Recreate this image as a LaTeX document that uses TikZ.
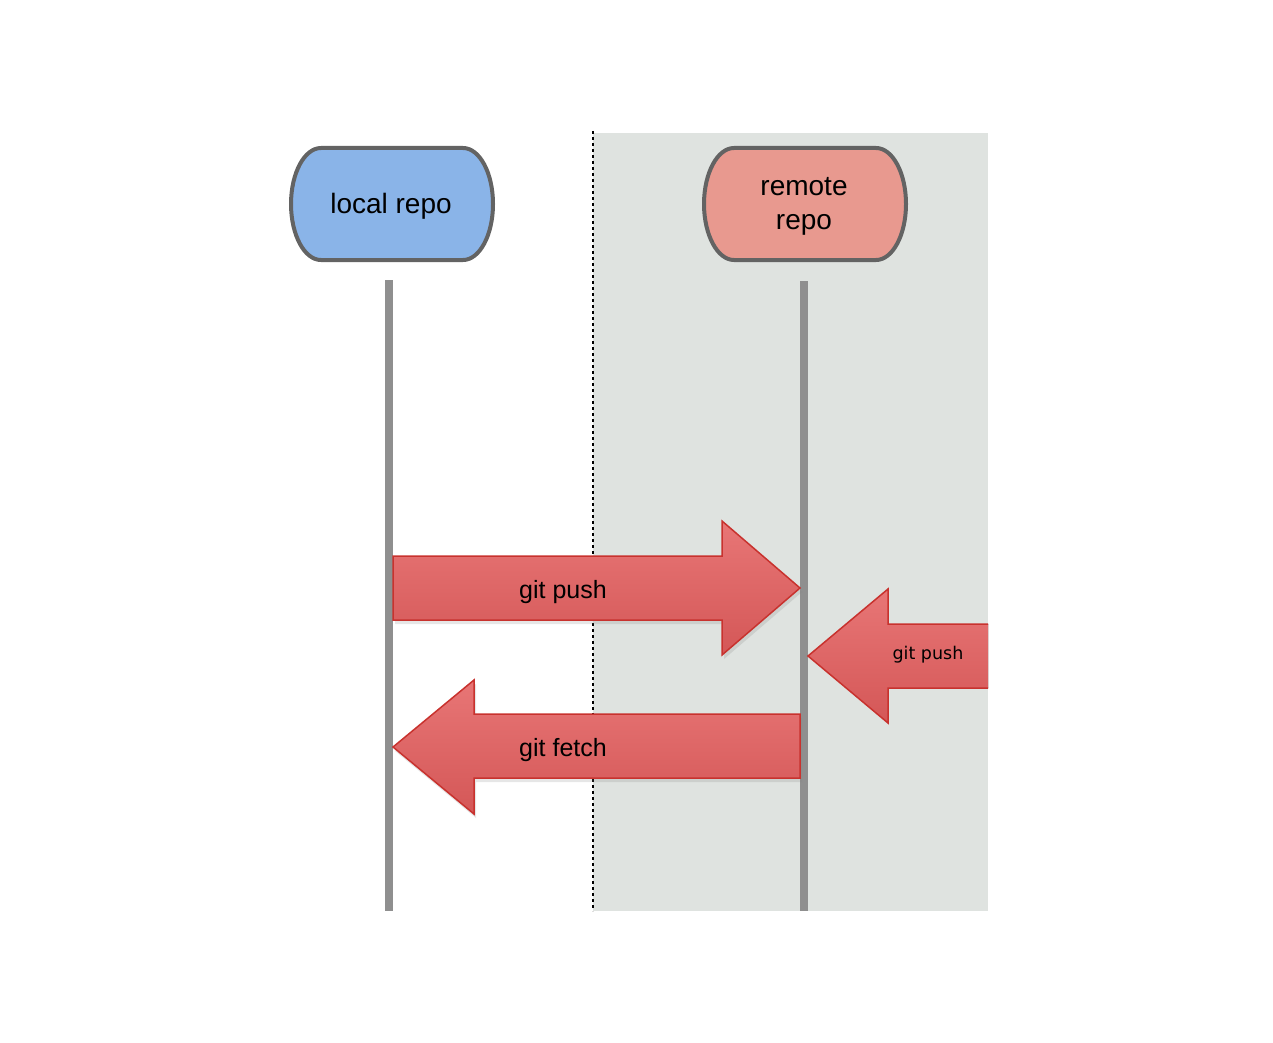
\documentclass[tikz,border=0pt]{standalone}
\usepackage{fontspec}
\setmainfont{Liberation Sans}
\newfontfamily\smallfont{DejaVu Sans}
\usetikzlibrary{shadows}
\definecolor{bgray}{HTML}{DFE3E0}
\definecolor{localfill}{HTML}{8AB4E8}
\definecolor{remotefill}{HTML}{E8998F}
\definecolor{pillborder}{HTML}{636363}
\definecolor{lifegray}{HTML}{8F8F8F}
\definecolor{arrtop}{HTML}{E87676}
\definecolor{arrbot}{HTML}{D45757}
\definecolor{arrborder}{HTML}{C8322E}
\tikzset{
  pill/.style={draw=pillborder, line width=4pt},
  lifeline/.style={draw=lifegray, line width=8pt},
  blockarrow/.style={top color=arrtop, bottom color=arrbot, draw=arrborder, line width=1.5pt, line join=miter},
  label/.style={font=\fontsize{25}{30}\selectfont, inner sep=0pt},
}
\begin{document}
\begin{tikzpicture}[x=1pt,y=-1pt]
\useasboundingbox (0,0) rectangle (1273,1043);
% remote background
\fill[bgray] (593,133) rectangle (988,911);
\coordinate (dtop) at (593,131);
\coordinate (dbot) at (593,911);
\draw[line width=2pt, dash pattern=on 3pt off 3pt] (dtop) -- (dbot);
% pills
\draw[pill, fill=localfill] (321,148) -- (463,148) arc[start angle=-90, end angle=90, x radius=30, y radius=56] -- (321,260) arc[start angle=90, end angle=270, x radius=30, y radius=56] -- cycle;
\node[label, font=\fontsize{28}{30}\selectfont] (local) at (391,206) {local repo};
\draw[pill, fill=remotefill] (734,148) -- (876,148) arc[start angle=-90, end angle=90, x radius=30, y radius=56] -- (734,260) arc[start angle=90, end angle=270, x radius=30, y radius=56] -- cycle;
\node[label, align=center, font=\fontsize{28}{34}\selectfont] (remote) at (804,206) {remote\\repo};
% lifelines
\coordinate (lt) at (389,280);
\coordinate (lb) at (389,911);
\coordinate (rt) at (804,281);
\coordinate (rb) at (804,911);
\draw[lifeline] (lt) -- (lb);
\draw[lifeline] (rt) -- (rb);
% git push arrow
\draw[blockarrow, drop shadow={opacity=0.2, shadow xshift=2pt, shadow yshift=-4pt}] (393,556) -- (722,556) -- (722,521) -- (800,588) -- (722,655) -- (722,620) -- (393,620) -- cycle;
\node[label] (push) at (563,592) {git push};
% git fetch arrow
\draw[blockarrow, drop shadow={opacity=0.2, shadow xshift=2pt, shadow yshift=-4pt}] (800,714) -- (474,714) -- (474,680) -- (393,747) -- (474,814) -- (474,778) -- (800,778) -- cycle;
\node[label] (fetch) at (563,750) {git fetch};
% incoming git push
\fill[top color=arrtop, bottom color=arrbot] (988,624) -- (888,624) -- (888,589) -- (808,656) -- (888,723) -- (888,688) -- (988,688) -- cycle;
\draw[arrborder, line width=1.5pt] (988,624) -- (888,624) -- (888,589) -- (808,656) -- (888,723) -- (888,688) -- (988,688);
\node[inner sep=0pt, font=\smallfont\fontsize{17.5}{20}\selectfont] (push2) at (928,655) {git push};
\end{tikzpicture}
\end{document}
